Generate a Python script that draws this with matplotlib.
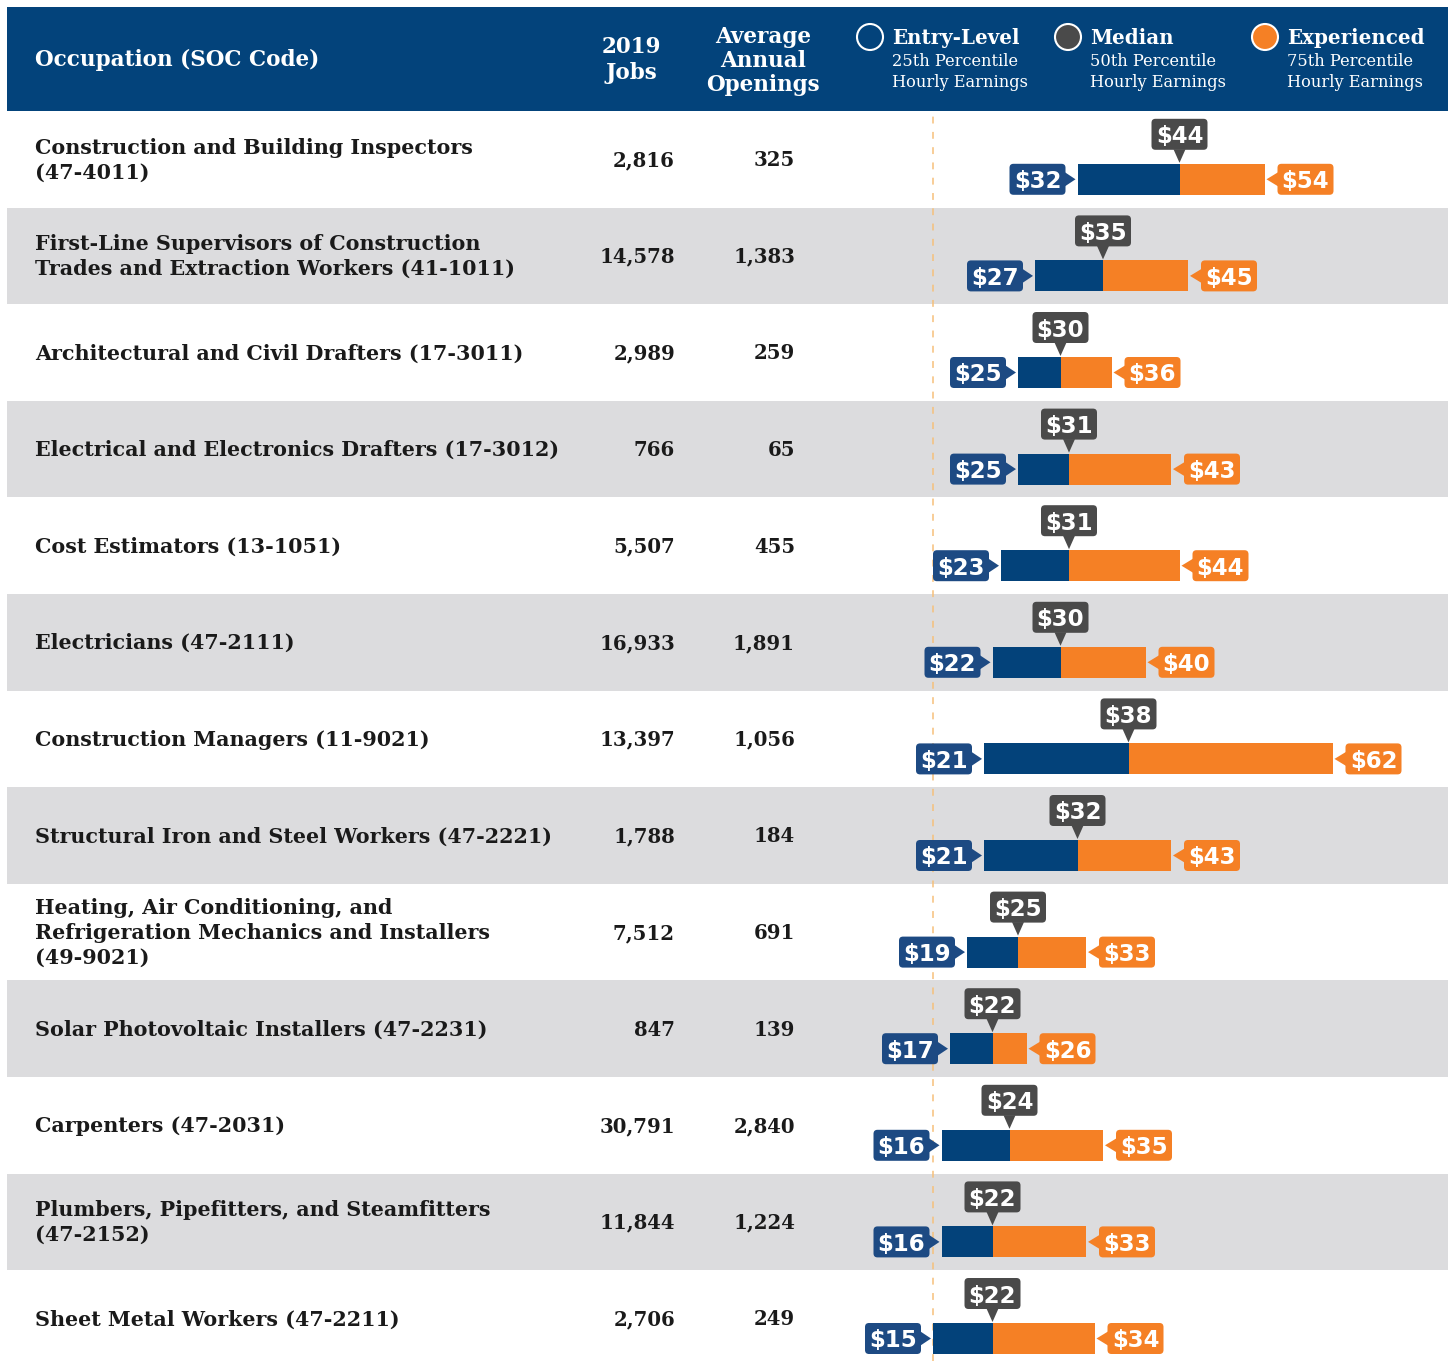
import matplotlib
matplotlib.use("Agg")
import matplotlib.pyplot as plt
import matplotlib.transforms as mtransforms
from matplotlib.patches import FancyBboxPatch, Polygon, Rectangle, Circle

occupations = [
    "Construction and Building Inspectors\n(47-4011)",
    "First-Line Supervisors of Construction\nTrades and Extraction Workers (41-1011)",
    "Architectural and Civil Drafters (17-3011)",
    "Electrical and Electronics Drafters (17-3012)",
    "Cost Estimators (13-1051)",
    "Electricians (47-2111)",
    "Construction Managers (11-9021)",
    "Structural Iron and Steel Workers (47-2221)",
    "Heating, Air Conditioning, and\nRefrigeration Mechanics and Installers\n(49-9021)",
    "Solar Photovoltaic Installers (47-2231)",
    "Carpenters (47-2031)",
    "Plumbers, Pipefitters, and Steamfitters\n(47-2152)",
    "Sheet Metal Workers (47-2211)",
]
jobs_2019 = ["2,816", "14,578", "2,989", "766", "5,507", "16,933", "13,397",
             "1,788", "7,512", "847", "30,791", "11,844", "2,706"]
annual_openings = ["325", "1,383", "259", "65", "455", "1,891", "1,056",
                   "184", "691", "139", "2,840", "1,224", "249"]
entry_level = [32, 27, 25, 25, 23, 22, 21, 21, 19, 17, 16, 16, 15]
median = [44, 35, 30, 31, 31, 30, 38, 32, 25, 22, 24, 22, 22]
experienced = [54, 45, 36, 43, 44, 40, 62, 43, 33, 26, 35, 33, 34]

W, H = 1455, 1361
ROW_H = 96.6      # px per row
TOP = 111         # px, bottom of header
PX_PER_USD = 8.5
X0 = 805.5        # px where $0 would sit

NAVY = "#03427a"
NAVY_LBL = "#1d4a83"
GREY = "#4a4a4a"
ORANGE = "#f58025"
BAND = "#dcdcde"
INK = "#1a1a1a"
SERIF = "DejaVu Serif"
SANS = "DejaVu Sans"

fig = plt.figure(figsize=(W / 100, H / 100), dpi=100)
ax = fig.add_axes([0, 0, 1, 1])
ax.set_xlim(-X0 / PX_PER_USD, (W - X0) / PX_PER_USD)
ax.set_ylim(-0.5 + (H - TOP) / ROW_H, -0.5 - TOP / ROW_H)
ax.axis("off")

# header band
fig.add_artist(Rectangle((7 / W, 1 - TOP / H), 1441 / W, 104 / H,
                         transform=fig.transFigure, fc="#03437b", ec="none"))

def fx(px):
    return px / W

def fy(py):
    return 1 - py / H

hdr = dict(color="white", family=SERIF, weight="bold", fontsize=15.5)
fig.text(fx(35), fy(60), "Occupation (SOC Code)", ha="left", va="center", **hdr)
fig.text(fx(631), fy(60), "2019\nJobs", ha="center", va="center",
         linespacing=1.2, **hdr)
fig.text(fx(763), fy(61), "Average\nAnnual\nOpenings", ha="center", va="center",
         linespacing=1.1, **hdr)

legend_items = [
    (870, "none", "Entry-Level", "25th Percentile\nHourly Earnings"),
    (1068, GREY, "Median", "50th Percentile\nHourly Earnings"),
    (1265, ORANGE, "Experienced", "75th Percentile\nHourly Earnings"),
]
for cx, fc, title, sub in legend_items:
    fig.add_artist(Circle((cx, H - 37), 13, transform=mtransforms.IdentityTransform(),
                          fc=fc, ec="white", lw=1.5))
    fig.text(fx(cx + 22), fy(38), title, ha="left", va="center", color="white",
             family=SERIF, weight="bold", fontsize=14.3)
    fig.text(fx(cx + 22), fy(72), sub, ha="left", va="center", color="white",
             family=SERIF, fontsize=11.7, linespacing=1.35)

# row bands
n = len(occupations)
for i in range(n):
    if i % 2 == 1:
        ax.axhspan(i - 0.5, i + 0.5, xmin=7 / W, xmax=1448 / W, fc=BAND, ec="none", zorder=0)

# reference line at lowest entry wage
ax.axvline(min(entry_level), ymin=0, ymax=(H - TOP) / H, color="#f6c07a",
           lw=1.1, dashes=(4.5, 5.5), zorder=1)

tx = mtransforms.blended_transform_factory(fig.transFigure, ax.transData)
for i in range(n):
    ax.text(fx(35), i + 0.01, occupations[i], transform=tx, ha="left", va="center",
            family=SERIF, weight="bold", fontsize=14.9, color=INK, linespacing=1.3)
    ax.text(fx(675), i + 0.01, jobs_2019[i], transform=tx, ha="right", va="center",
            family=SERIF, weight="bold", fontsize=14.2, color=INK)
    ax.text(fx(795), i + 0.01, annual_openings[i], transform=tx, ha="right", va="center",
            family=SERIF, weight="bold", fontsize=14.2, color=INK)

bar_off = 20 / ROW_H
bar_h = 31 / ROW_H
ypos = [i + bar_off for i in range(n)]
ax.barh(ypos, [m - e for m, e in zip(median, entry_level)], left=entry_level,
        height=bar_h, color=NAVY, zorder=2)
ax.barh(ypos, [x - m for x, m in zip(experienced, median)], left=median,
        height=bar_h, color=ORANGE, zorder=2)


def callout(x, y, text, color, side):
    # shapes are given in pixels around the data point (y pointing down)
    tr = mtransforms.Affine2D().scale(1, -1) + mtransforms.ScaledTranslation(x, y, ax.transData)
    if side == "left":
        box = (-68, -15.5, 56, 31)
        tri = [(-2, 0), (-12.5, -7), (-12.5, 7)]
        c = (-40, 0)
    elif side == "right":
        box = (13, -15.5, 56, 31)
        tri = [(2, 0), (13.5, -7), (13.5, 7)]
        c = (41, 0)
    else:
        box = (-28, -45, 56, 31)
        tri = [(0, -1), (-6, -14.5), (6, -14.5)]
        c = (0, -29.5)
    ax.add_patch(FancyBboxPatch(box[:2], box[2], box[3],
                                boxstyle="round,pad=0,rounding_size=4",
                                fc=color, ec="none", transform=tr, zorder=3))
    ax.add_patch(Polygon(tri, closed=True, fc=color, ec="none", transform=tr, zorder=3))
    ax.text(c[0], c[1], text, transform=tr, ha="center", va="center_baseline",
            color="white", family=SANS, weight="bold", fontsize=16.5, zorder=4)


for i in range(n):
    yc = ypos[i]
    callout(entry_level[i], yc, f"${entry_level[i]}", NAVY_LBL, "left")
    callout(experienced[i], yc, f"${experienced[i]}", ORANGE, "right")
    callout(median[i], yc - bar_h / 2, f"${median[i]}", GREY, "top")

fig.savefig("out.png", dpi=100)
